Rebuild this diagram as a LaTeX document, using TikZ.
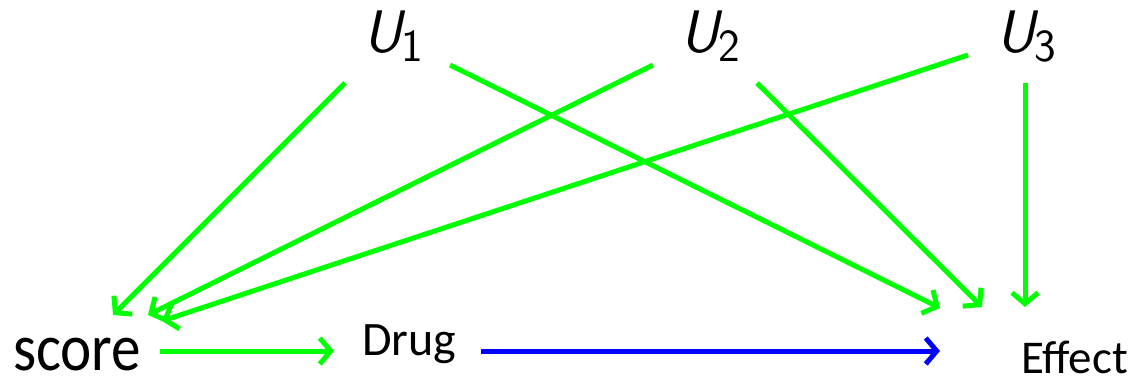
\documentclass[tikz,border=0pt]{standalone}
\usepackage{fontspec}
\newfontfamily\calib{Carlito}
\usetikzlibrary{arrows.meta,calc}
\definecolor{mygreen}{RGB}{0,255,0}
\definecolor{myblue}{RGB}{0,0,255}
\tikzset{
  lbl/.style={inner sep=0pt, outer sep=0pt, anchor=base west},
  uvar/.style={inner sep=0pt, outer sep=0pt, anchor=base west, font=\fontsize{60}{61}\selectfont\sffamily\slshape},
  garrow/.style={draw=mygreen, line width=5pt, -{Straight Barb[length=11pt,width=26pt]}},
  barrow/.style={draw=myblue, line width=5pt, -{Straight Barb[length=11pt,width=26pt]}}
}
\newcommand{\usub}[1]{\raisebox{-9pt}{\fontsize{46}{47}\selectfont\upshape #1}}
\begin{document}
\begin{tikzpicture}[x=1pt,y=-1pt]
\useasboundingbox (0,0) rectangle (1138,385);
\node[uvar] (U1) at (363,53) {U\usub{1}};
\node[uvar] (U2) at (680,53) {U\usub{2}};
\node[uvar] (U3) at (996,53) {U\usub{3}};
\node[lbl, font=\fontsize{58}{60}\selectfont\calib] (score) at (13,370) {\scalebox{1.02}[1.15]{score}};
\node[lbl, font=\fontsize{48}{50}\selectfont\calib] (drug) at (362,355) {Drug};
\node[lbl, font=\fontsize{47}{49}\selectfont\calib] (effect) at (1021,373) {Effect};
% U1
\draw[garrow] ($(U1.base west)+(-18,30)$) -- ($(score.base west)+(100,-55)$);
\draw[garrow] ($(U1.base west)+(87,12)$) -- ($(effect.base west)+(-81,-65)$);
% U2
\draw[garrow] ($(U2.base west)+(-27,12)$) -- ($(score.base west)+(135,-55)$);
\draw[garrow] ($(U2.base west)+(77,30)$) -- ($(effect.base west)+(-39,-66)$);
% U3
\draw[garrow] ($(U3.base west)+(-28,2)$) -- ($(score.base west)+(149,-49)$);
\draw[garrow] ($(U3.base west)+(29,30)$) -- ($(effect.base west)+(4,-66)$);
% bottom
\draw[garrow] ($(score.base west)+(147,-19)$) -- ($(drug.base west)+(-28,-4)$);
\draw[barrow] ($(drug.base west)+(119,-4)$) -- ($(effect.base west)+(-81,-22)$);
\end{tikzpicture}
\end{document}
